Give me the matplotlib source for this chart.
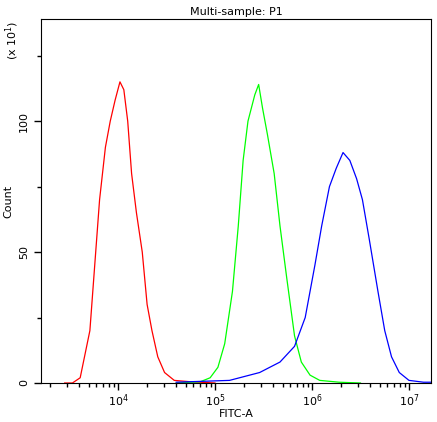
import matplotlib
matplotlib.use("Agg")
import matplotlib.pyplot as plt
import numpy as np

red_logx = [3.45,3.53,3.61,3.71,3.77,3.81,3.87,3.92,3.97,4.02,4.06,4.10,4.14,4.19,4.25,4.30,4.35,4.41,4.48,4.58,4.74,5.0]
red_y    = [0,0,2,20,50,70,90,100,108,115,112,100,80,65,50,30,20,10,4,1,0.5,0]
green_logx = [4.6,4.85,4.95,5.03,5.10,5.18,5.24,5.29,5.34,5.41,5.45,5.49,5.54,5.61,5.67,5.74,5.82,5.89,5.98,6.08,6.28,6.5]
green_y    = [0,0.5,2,6,15,35,60,85,100,110,114,105,95,80,60,40,18,8,3,1,0.3,0]
blue_logx = [4.6,5.15,5.46,5.67,5.82,5.93,6.03,6.10,6.18,6.25,6.32,6.39,6.46,6.52,6.59,6.68,6.75,6.82,6.90,7.0,7.15,7.23]
blue_y    = [0.3,1,4,8,14,25,45,60,75,82,88,85,78,70,55,35,20,10,4,1,0.3,0.3]

fig = plt.figure(figsize=(4.37,4.22), dpi=100)
ax = fig.add_axes([41/437, 1-383/422, 390/437, 364/422])
for lx, y, c in [(red_logx, red_y, 'red'), (green_logx, green_y, '#00ff00'), (blue_logx, blue_y, 'blue')]:
    ax.plot(10**np.array(lx), y, color=c, lw=0.9)
ax.set_xscale('log')
ax.set_xlim(10**3.206, 10**7.227)
ax.set_ylim(0, 139)
ax.set_yticks([0,50,100])
ax.set_yticks([25,75,125], minor=True)
ax.set_yticklabels(['0','50','100'], rotation=90, va='center', fontsize=8)
ax.tick_params(axis='x', labelsize=8, pad=2)
ax.tick_params(which='major', length=5, width=1)
ax.tick_params(which='minor', length=3, width=1)
ax.set_xlabel('FITC-A', fontsize=8, labelpad=0)
ax.set_ylabel('Count', fontsize=8)
ax.set_title('Multi-sample: P1', fontsize=8, pad=3)
fig.text(12/437, 1-40/422, r'(x 10$^1$)', rotation=90, fontsize=8, ha='center', va='center')
fig.savefig('out.png', dpi=100)
